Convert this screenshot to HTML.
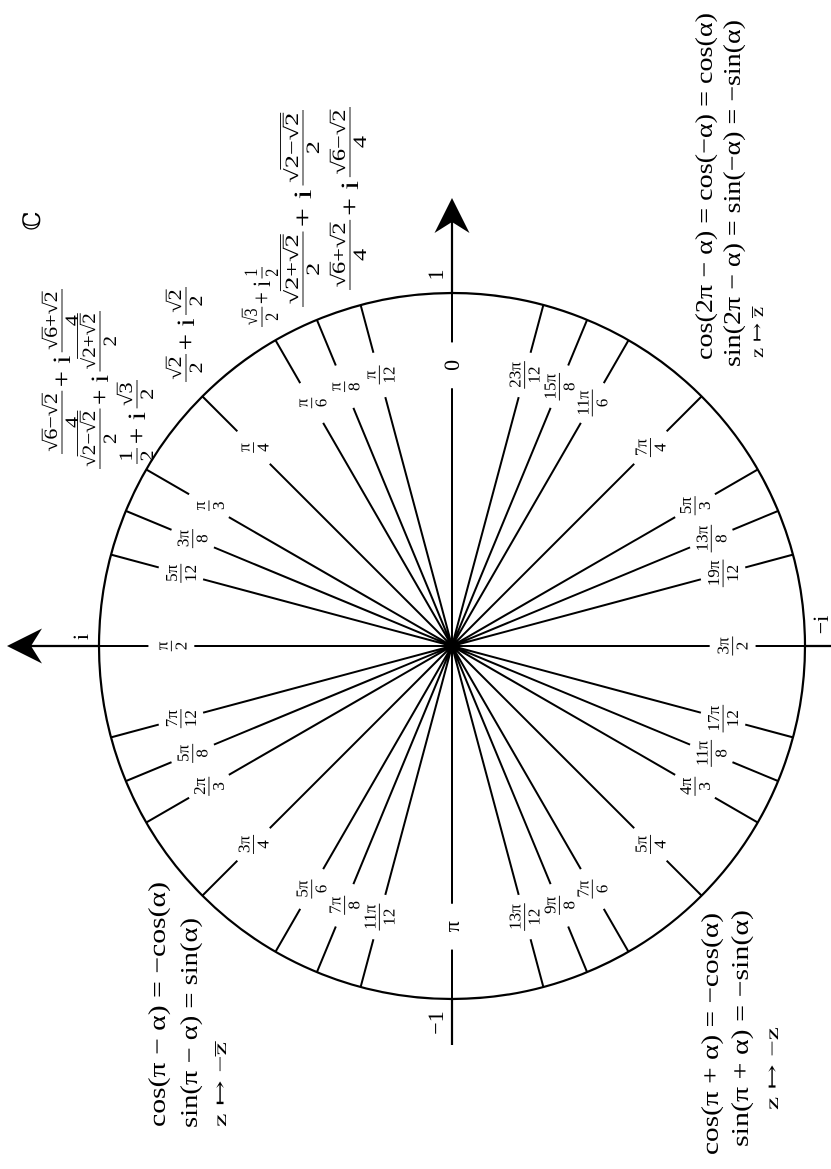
<!DOCTYPE html>
<html><head><meta charset="utf-8"><style>
html,body{margin:0;padding:0;background:#fff}
svg{display:block}
text{font-family:"Liberation Serif","DejaVu Serif",serif;fill:#000}
</style></head><body>
<svg id="svg" width="831" height="1169" viewBox="0 0 831 1169" xmlns="http://www.w3.org/2000/svg">
<rect width="831" height="1169" fill="#fff"/>
<g id="L" transform="translate(0,1169) rotate(-90)"></g>
</svg>
<script>
// angle data: theta = angleK * pi / angleD
const angleK = [0,1,1,1,1,1,3,5,1,7,5,2,3,5,7,11,1,13,9,7,5,4,11,17,3,19,13,5,7,11,15,23];
const angleD = [1,12,8,6,4,3,8,12,2,12,8,3,4,6,8,12,1,12,8,6,4,3,8,12,2,12,8,3,4,6,8,12];
const axisTicks = ["1","\u22121"];

const NS="http://www.w3.org/2000/svg";
const L=document.getElementById('L');
const CX=523, CY=452, R=353;
function el(tag,attrs,parent){const e=document.createElementNS(NS,tag);for(const k in attrs)e.setAttribute(k,attrs[k]);(parent||L).appendChild(e);return e;}
function px(t,r){return CX+r*Math.cos(t);}
function py(t,r){return CY-r*Math.sin(t);}

const circ=el('circle',{cx:CX,cy:CY,r:R,fill:'none',stroke:'#000','stroke-width':2.2});



const ax1=el('line',{x1:CX+R,y1:CY,x2:CX+440,y2:CY,stroke:'#000','stroke-width':2.2});


const ax2=el('line',{x1:CX-R,y1:CY,x2:CX-399,y2:CY,stroke:'#000','stroke-width':2.2});


const ax3=el('line',{x1:CX,y1:CY-R,x2:CX,y2:CY-435,stroke:'#000','stroke-width':2.2});


const ax4=el('line',{x1:CX,y1:CY+R,x2:CX,y2:CY+400,stroke:'#000','stroke-width':2.2});


const ah1=el('path',{d:`M${CX+448},${CY} L${CX+413},${CY-17.5} L${CX+424},${CY} L${CX+413},${CY+17.5} Z`,fill:'#000'});


const ah2=el('path',{d:`M${CX},${CY-445} L${CX-17.5},${CY-410} L${CX},${CY-421} L${CX+17.5},${CY-410} Z`,fill:'#000'});



for(let i=0;i<angleK.length;i++){
  const t=angleK[i]*Math.PI/angleD[i];
  const g=el('g',{});
  
  
  el('line',{x1:CX,y1:CY,x2:px(t,0.73*R),y2:py(t,0.73*R),stroke:'#000','stroke-width':2},g);
  el('line',{x1:px(t,0.86*R),y1:py(t,0.86*R),x2:px(t,R),y2:py(t,R),stroke:'#000','stroke-width':2},g);
  const lx=px(t,0.795*R), ly=py(t,0.795*R);
  if(angleD[i]===1){
    const s=angleK[i]===0?'0':'\u03c0';
    const tx=el('text',{x:lx,y:ly+7,'text-anchor':'middle','font-size':22},g);
    tx.textContent=s;
  } else {
    const num=(angleK[i]===1?'':angleK[i])+'\u03c0';
    const a=el('text',{x:lx,y:ly-4,'text-anchor':'middle','font-size':17},g);a.textContent=num;
    const b=el('text',{x:lx,y:ly+15,'text-anchor':'middle','font-size':17},g);b.textContent=String(angleD[i]);
    const w=Math.max(a.getComputedTextLength(),b.getComputedTextLength());
    el('line',{x1:lx-w/2-1,y1:ly,x2:lx+w/2+1,y2:ly,stroke:'#000','stroke-width':0.9},g);
  }
}

function txt(s,x,y,fs,extra,name){
  const t=el('text',Object.assign({x:x,y:y,'font-size':fs},extra||{}));
  t.textContent=s;
  
  
  return t;
}
txt(axisTicks[0],894,443,22,{'text-anchor':'middle'},'tick-label-1');
txt(axisTicks[1],146,443,22,{'text-anchor':'middle'},'tick-label-minus-1');
txt('i',532,88,22,{'text-anchor':'middle'},'tick-label-i');
txt('\u2212i',544,828,22,{'text-anchor':'middle'},'tick-label-minus-i');
txt('\u2102',948,40,24,{'text-anchor':'middle'},'complex-plane-symbol');

function formula(s,x0,x1,y,fs,name){
  return txt(s,x0,y,fs,{textLength:x1-x0,lengthAdjust:'spacingAndGlyphs'},name);
}
formula('cos(2\u03c0 \u2212 \u03b1) = cos(\u2212\u03b1) = cos(\u03b1)',809,1156,712,24,'identity-cos-2pi');
formula('sin(2\u03c0 \u2212 \u03b1) = sin(\u2212\u03b1) = \u2212sin(\u03b1)',802,1149,740,24,'identity-sin-2pi');
formula('z \u21a6 z\u0305',811,862,763,18,'map-conjugate');
formula('cos(\u03c0 + \u03b1) = \u2212cos(\u03b1)',14,256,718,24,'identity-cos-pi-plus');
formula('sin(\u03c0 + \u03b1) = \u2212sin(\u03b1)',22,259,748,24,'identity-sin-pi-plus');
formula('z \u21a6 \u2212z',59,142,778,18,'map-negate');
formula('cos(\u03c0 \u2212 \u03b1) = \u2212cos(\u03b1)',42,287,165,24,'identity-cos-pi-minus');
formula('sin(\u03c0 \u2212 \u03b1) = sin(\u03b1)',41,251,197,24,'identity-sin-pi-minus');
formula('z \u21a6 \u2212z\u0305',42,127,226,18,'map-neg-conjugate');

function depth(tok){if(typeof tok==='string')return 0;return 1+Math.max(0,...tok.over.map(depth));}
function lay(parent,tokens,x,y,fs){
  let cx=x;
  for(const tk of tokens){
    if(typeof tk==='string'){
      const t=el('text',{x:cx,y:y,'font-size':fs},parent);t.textContent=tk;
      cx+=t.getComputedTextLength();
    } else {
      const w=lay(parent,tk.over,cx,y,fs);
      const d=depth(tk);
      const oy=y-fs*(0.78+0.14*(d-1));
      el('line',{x1:cx-1,y1:oy,x2:cx+w,y2:oy,stroke:'#000','stroke-width':0.9},parent);
      cx+=w;
    }
  }
  return cx-x;
}
function expr(items,x0,x1,yc,name){
  const g=el('g',{});
  
  
  const inner=el('g',{},g);
  let x=0; const fs=19;
  for(const it of items){
    if(it.t){
      const t=el('text',{x:x+3,y:8,'font-size':25},inner);t.textContent=it.t;
      x+=t.getComputedTextLength()+6;
    } else {
      const gn=el('g',{},inner), gd=el('g',{},inner);
      const wn=lay(gn,it.n,0,-5,fs), wd=lay(gd,it.d,0,16,fs);
      const w=Math.max(wn,wd)+4;
      gn.setAttribute('transform',`translate(${x+(w-wn)/2},0)`);
      gd.setAttribute('transform',`translate(${x+(w-wd)/2},0)`);
      el('line',{x1:x,y1:0,x2:x+w,y2:0,stroke:'#000','stroke-width':0.9},inner);
      x+=w;
    }
  }
  const sc=(x1-x0)/x;
  g.setAttribute('transform',`translate(${x0},${yc}) scale(${sc},1)`);
}
const s2={over:['2']}, s3={over:['3']}, s6={over:['6']};
const f=(n,d)=>({n:n,d:d});
expr([f(['\u221a',s6,'\u2212\u221a',s2],['4']),{t:'+ i'},f(['\u221a',s6,'+\u221a',s2],['4'])],715,880,62,'value-5pi12');
expr([f(['\u221a',{over:['2\u2212\u221a',s2]}],['2']),{t:'+ i'},f(['\u221a',{over:['2+\u221a',s2]}],['2'])],700,858,100,'value-3pi8');
expr([f(['1'],['2']),{t:'+ i'},f(['\u221a',s3],['2'])],705,789,137,'value-pi3');
expr([f(['\u221a',s2],['2']),{t:'+ i'},f(['\u221a',s2],['2'])],787,882,186,'value-pi4');
expr([f(['\u221a',s3],['2']),{t:'+ i'},f(['1'],['2'])],842,902,262,'value-pi6');
expr([f(['\u221a',{over:['2+\u221a',s2]}],['2']),{t:'+ i'},f(['\u221a',{over:['2\u2212\u221a',s2]}],['2'])],862,1059,303,'value-pi8');
expr([f(['\u221a',s6,'+\u221a',s2],['4']),{t:'+ i'},f(['\u221a',s6,'\u2212\u221a',s2],['4'])],879,1062,350,'value-pi12');
</script>
</body></html>
